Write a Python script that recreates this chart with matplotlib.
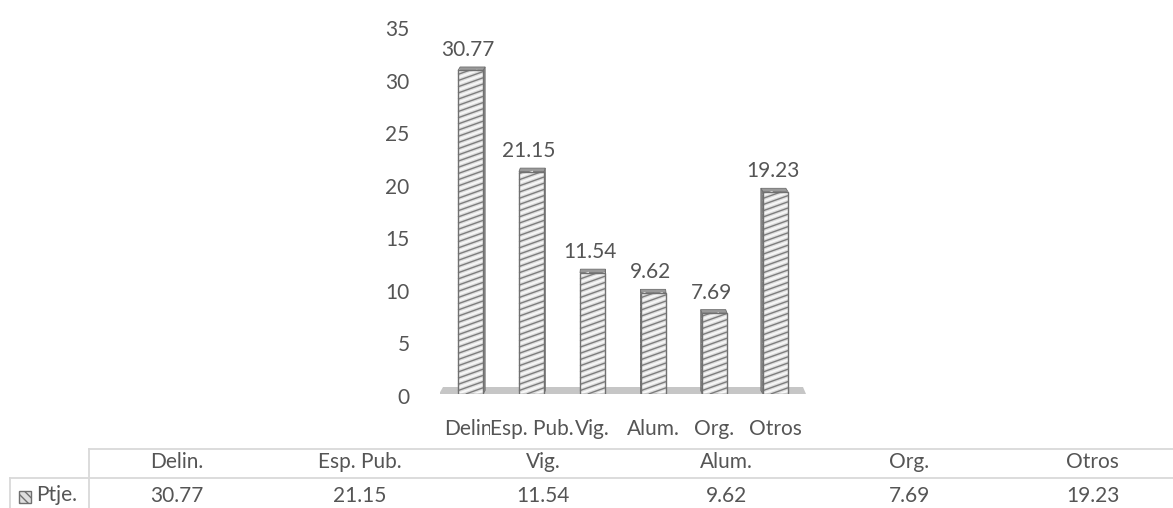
import numpy as np
import matplotlib
matplotlib.use("Agg")
import matplotlib.pyplot as plt
from matplotlib.patches import Rectangle, Polygon
from matplotlib.collections import LineCollection
from matplotlib.lines import Line2D
from matplotlib.transforms import IdentityTransform, ScaledTranslation

# ---- data ----
categories = ["Delin.", "Esp. Pub.", "Vig.", "Alum.", "Org.", "Otros"]
values = [30.77, 21.15, 11.54, 9.62, 7.69, 19.23]
series_name = "Ptje."
y_ticks = [0, 5, 10, 15, 20, 25, 30, 35]

TEXT = "#555555"
GRID = "#d9d9d9"
FONT = "Lato"
FS = 15

W, H = 1173, 508
fig = plt.figure(figsize=(W / 100, H / 100), dpi=100)
plt.rcParams["font.family"] = [FONT, "DejaVu Sans"]


def fx(px):
    return px / W


def fy(py):
    return 1 - py / H


# plot area (pixel box of the value axis range)
ax_l, ax_r, ax_top, ax_bot = 440, 806, 26, 394
ax = fig.add_axes([fx(ax_l), fy(ax_bot), fx(ax_r) - fx(ax_l), fy(ax_top) - fy(ax_bot)])
ax.set_xlim(-0.5, len(categories) - 0.5)
ax.set_ylim(0, 35)
ax.patch.set_visible(False)
for s in ax.spines.values():
    s.set_visible(False)

ax.set_yticks(y_ticks)
ax.set_yticklabels([str(t) for t in y_ticks])
ax.tick_params(axis="y", length=0, pad=22, labelsize=FS, labelcolor=TEXT)
shift = ScaledTranslation(0, -2 / 100, fig.dpi_scale_trans)
for lab in ax.get_yticklabels():
    lab.set_transform(lab.get_transform() + shift)

x = np.arange(len(categories))
ax.set_xticks(x)
ax.set_xticklabels(categories)
ax.tick_params(axis="x", length=0, pad=18, labelsize=FS, labelcolor=TEXT)
for lab in ax.get_xticklabels():
    lab.set_bbox(dict(facecolor="white", edgecolor="none", pad=0.0))

fig.canvas.draw()
to_px = ax.transData.transform
ident = IdentityTransform()

# floor slab
bl = to_px((-0.5, 0))
br = to_px((len(categories) - 0.5, 0))
floor = Polygon([(bl[0] - 1, bl[1]), (br[0], br[1]), (br[0] - 3, br[1] + 7), (bl[0] + 3, bl[1] + 7)],
                closed=True, facecolor="#c6c6c6", edgecolor="none", transform=ident, zorder=1)
ax.add_artist(floor)


def stripes(x0, y0, x1, y1, slope, step, offset):
    """Slanted stripe segments clipped to the box (x0, y0)-(x1, y1) in pixels."""
    segs = []
    for yy in np.arange(y0 - slope * (x1 - x0) + offset, y1, step):
        xs = max(x0, x0 + (y0 - yy) / slope)
        xe = min(x1, x0 + (y1 - yy) / slope)
        if xe > xs:
            segs.append([(xs, yy + slope * (xs - x0)), (xe, yy + slope * (xe - x0))])
    return segs


bar_w = 0.41
mid_px = (bl[0] + br[0]) / 2
for xi, v in zip(x, values):
    x0, y0 = to_px((xi - bar_w / 2, 0))
    x1, y1 = to_px((xi + bar_w / 2, v))
    # perspective offsets of the back face
    dx = (mid_px - (x0 + x1) / 2) * 0.014
    dy = 3.5
    if dx >= 0:
        side = [(x1, y0), (x1, y1), (x1 + dx, y1 + dy), (x1 + dx, y0 + dy)]
    else:
        side = [(x0, y0), (x0, y1), (x0 + dx, y1 + dy), (x0 + dx, y0 + dy)]
    ax.add_artist(Polygon(side, closed=True, facecolor="#8c8c8c", edgecolor="#6f6f6f", lw=0.6,
                          transform=ident, zorder=2))
    top = [(x0, y1), (x1, y1), (x1 + dx, y1 + dy), (x0 + dx, y1 + dy)]
    ax.add_artist(Polygon(top, closed=True, facecolor="#9a9a9a", edgecolor="#6f6f6f", lw=0.6,
                          transform=ident, zorder=2))
    ax.add_artist(Rectangle((x0, y0), x1 - x0, y1 - y0, facecolor="#dedede", edgecolor="none",
                            transform=ident, zorder=3))
    slope, step = 0.36, 6.2
    ax.add_collection(LineCollection(stripes(x0, y0, x1, y1, slope, step, step / 2),
                                     colors="#f7f7f7", linewidths=1.4, transform=ident, zorder=4))
    ax.add_collection(LineCollection(stripes(x0, y0, x1, y1, slope, step, 0),
                                     colors="#7d7d7d", linewidths=1.0, transform=ident, zorder=4))
    ax.add_artist(Rectangle((x0, y0), x1 - x0, y1 - y0, facecolor="none", edgecolor="#707070", lw=1.0,
                            transform=ident, zorder=5))
    ax.annotate(f"{v:.2f}", xy=(xi, v), xytext=(-2, 10.5), textcoords="offset points",
                ha="center", va="baseline", fontsize=FS, color=TEXT, annotation_clip=False)

# ---- data table ----
line_kw = dict(color=GRID, lw=1.3, transform=fig.transFigure)
fig.add_artist(Line2D([fx(89), 1], [fy(449), fy(449)], **line_kw))
fig.add_artist(Line2D([fx(10), 1], [fy(478), fy(478)], **line_kw))
fig.add_artist(Line2D([fx(89), fx(89)], [fy(449), 0], **line_kw))
fig.add_artist(Line2D([fx(10), fx(10)], [fy(478), 0], **line_kw))

col0, col_w = 177, 183.1
for i, (c, v) in enumerate(zip(categories, values)):
    cx = col0 + col_w * i
    fig.text(fx(cx), fy(468), c, ha="center", va="baseline", fontsize=FS, color=TEXT)
    fig.text(fx(cx), fy(502), f"{v:.2f}", ha="center", va="baseline", fontsize=FS, color=TEXT)

fig.text(fx(36), fy(501), series_name, ha="left", va="baseline", fontsize=FS, color=TEXT)
key = Rectangle((fx(19), fy(503)), fx(12), 12 / H, transform=fig.transFigure,
                facecolor="#dedede", edgecolor="#6f6f6f", hatch="\\\\\\\\", lw=1.0)
fig.add_artist(key)

fig.savefig("out.png", dpi=100)
